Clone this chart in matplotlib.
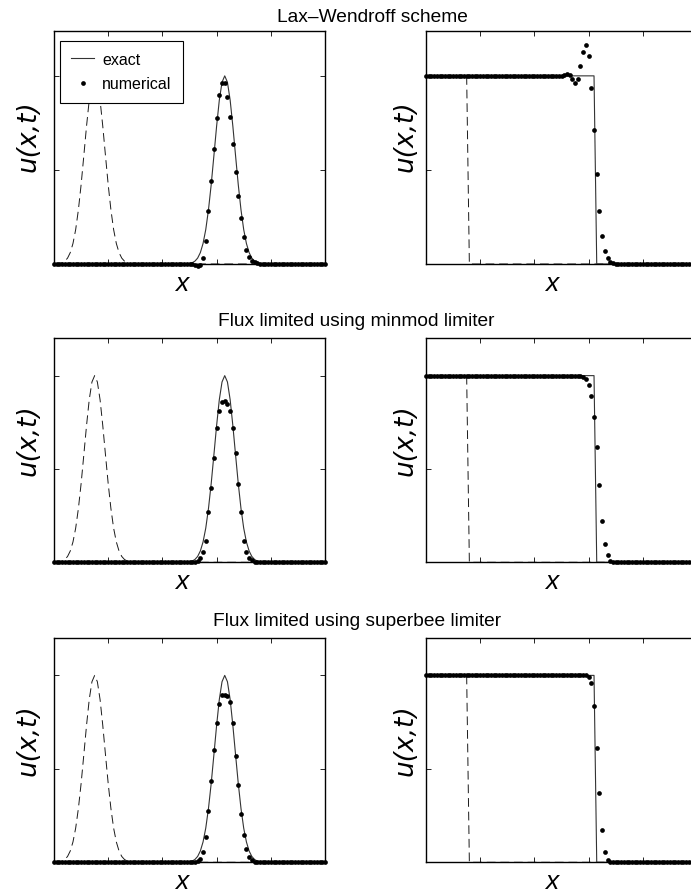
"""Advection of a pulse and a step with three schemes."""
import numpy as np
import matplotlib
matplotlib.use("Agg")
import matplotlib.pyplot as plt

# grid of the scheme
x_grid = np.round(np.arange(101) * 0.01, 2)

# exact pulse profile around its centre
pulse = [0.0011, 0.0029, 0.0068, 0.0151, 0.0313, 0.0605, 0.109, 0.183,
         0.288, 0.421, 0.575, 0.732, 0.871, 0.966, 1.0, 0.966, 0.871,
         0.732, 0.575, 0.421, 0.288, 0.183, 0.109, 0.0605, 0.0313,
         0.0151, 0.0068, 0.0029, 0.0011]
gauss_initial = [0.0] * 1 + pulse + [0.0] * 71
gauss_exact = [0.0] * 49 + pulse + [0.0] * 23

step_initial = [1.0] * 16 + [0.0] * 85
step_exact = [1.0] * 63 + [0.0] * 38

gauss_lw = [0.0] * 50 + [
    0.0, 0.0, -0.004, -0.012, -0.004, 0.03, 0.12, 0.28, 0.44, 0.61, 0.775,
    0.897, 0.96, 0.96, 0.89, 0.78, 0.637, 0.49, 0.36, 0.244, 0.142, 0.075,
    0.038, 0.018, 0.008, 0.003] + [0.0] * 25
gauss_minmod = [0.0] * 51 + [
    0.001, 0.003, 0.008, 0.025, 0.055, 0.116, 0.27, 0.40, 0.56, 0.72, 0.81,
    0.86, 0.864, 0.846, 0.81, 0.72, 0.584, 0.42, 0.27, 0.114, 0.057, 0.025,
    0.01, 0.004, 0.001, 0.0] + [0.0] * 24
gauss_superbee = [0.0] * 51 + [
    0.0, 0.001, 0.005, 0.02, 0.057, 0.133, 0.276, 0.436, 0.60, 0.744, 0.849,
    0.895, 0.895, 0.89, 0.856, 0.747, 0.569, 0.413, 0.26, 0.148, 0.07, 0.03,
    0.01, 0.003, 0.001, 0.0] + [0.0] * 24

step_lw = [1.0] * 50 + [
    1.0, 1.003, 1.01, 1.005, 0.985, 0.962, 0.982, 1.053, 1.128, 1.164, 1.103,
    0.938, 0.713, 0.478, 0.283, 0.147, 0.067, 0.03, 0.012, 0.004] + [0.0] * 31
step_minmod = [1.0] * 58 + [
    0.995, 0.982, 0.95, 0.889, 0.78, 0.616, 0.414, 0.223, 0.098, 0.039,
    0.009, 0.002] + [0.0] * 31
step_superbee = [1.0] * 60 + [
    0.99, 0.957, 0.836, 0.61, 0.37, 0.172, 0.057, 0.014, 0.003] + [0.0] * 32

titles = ["Lax\u2013Wendroff scheme",
          "Flux limited using minmod limiter",
          "Flux limited using superbee limiter"]
gauss_numerical = [gauss_lw, gauss_minmod, gauss_superbee]
step_numerical = [step_lw, step_minmod, step_superbee]

SANS = ["Liberation Sans", "DejaVu Sans"]
W, H = 691, 895

# pixel boxes of the rows: (top, bottom, ymax), title centre and baseline
rows = [(31.7, 265.0, 1.24, 372, 22),
        (339.3, 563.3, 1.2, 356, 326),
        (639.0, 863.3, 1.2, 357, 626)]
cols = [54, 426]
axw = 271


def panel(ax, exact, initial, numerical, ymax, label_x, height):
    """Draw one panel."""
    ax.plot(x_grid, initial, color="0.1", lw=0.7, dashes=(9, 5), zorder=3)
    ax.plot(x_grid, exact, color="0.2", lw=0.8, label="exact", zorder=3)
    ax.plot(x_grid, numerical, "o", color="black", ms=3.4, mew=0,
            label="numerical", clip_on=False, zorder=5)
    ax.set_xlim(0, 1)
    ax.set_ylim(0, ymax)
    ax.set_xticks([0.2, 0.4, 0.6, 0.8])
    ax.set_yticks([0, 0.5, 1])
    ax.tick_params(direction="in", top=True, right=True, length=3.5,
                   width=0.6, labelbottom=False, labelleft=False)
    for s in ax.spines.values():
        s.set_linewidth(1.0)
    ax.set_xlabel("x", family=SANS, style="italic", fontsize=19,
                  va="center")
    ax.xaxis.set_label_coords(label_x, -19.0 / height)
    ax.set_ylabel("u(x,t)", family="DejaVu Sans", style="oblique",
                  fontsize=19, va="center")


fig = plt.figure(figsize=(W / 100, H / 100), dpi=100)
for r, (top, bottom, ymax, tx, tb) in enumerate(rows):
    height = bottom - top
    axes = []
    for c, left in enumerate(cols):
        ax = fig.add_axes([left / W, (H - bottom) / H, axw / W, height / H])
        axes.append(ax)
    left_ax, right_ax = axes
    panel(left_ax, gauss_exact, gauss_initial, gauss_numerical[r], ymax,
          0.47, height)
    panel(right_ax, step_exact, step_initial, step_numerical[r], ymax,
          0.465, height)
    left_ax.yaxis.set_label_coords((29 - 54) / axw, 0.55)
    right_ax.yaxis.set_label_coords((405 - 426) / axw, 0.55)
    fig.text(tx / W, 1 - tb / H, titles[r], family=SANS, fontsize=13.8,
             ha="center", va="baseline")
    if r == 0:
        leg = left_ax.legend(loc="upper left", numpoints=1,
                             bbox_to_anchor=(6 / axw, 1 - 10 / height),
                             borderaxespad=0, fancybox=False,
                             handlelength=1.45, handletextpad=0.5,
                             labelspacing=0.6, borderpad=0.7,
                             prop={"family": SANS, "size": 11.5})
        leg.get_frame().set_edgecolor("black")
        leg.get_frame().set_linewidth(0.8)
        leg.get_frame().set_alpha(1)

fig.savefig("out.png", dpi=100)
